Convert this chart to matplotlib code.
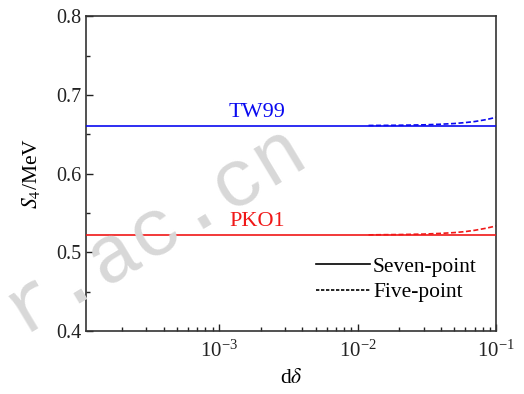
import matplotlib
matplotlib.use("Agg")
import matplotlib.pyplot as plt
from matplotlib.lines import Line2D
from matplotlib.ticker import LogLocator, MultipleLocator, NullFormatter, FuncFormatter
import math

plt.rcParams['font.family'] = ['Liberation Serif', 'DejaVu Serif']
plt.rcParams['mathtext.fontset'] = 'stix'

# data
d_delta_seven = [1.1e-4, 1e-3, 1e-2, 1e-1]
tw99_seven = [0.661, 0.661, 0.661, 0.661]
pko1_seven = [0.522, 0.522, 0.522, 0.522]
d_delta_five = [1.2e-2, 1.5e-2, 2e-2, 3e-2, 4e-2, 5e-2, 6e-2, 7e-2, 8.5e-2, 1e-1]
tw99_five = [0.6611, 0.6612, 0.6614, 0.6619, 0.6627, 0.6636, 0.6648, 0.6661, 0.6686, 0.6715]
pko1_five = [0.5221, 0.5223, 0.5225, 0.5231, 0.5240, 0.5250, 0.5263, 0.5279, 0.5306, 0.5335]
model_names = ["TW99", "PKO1"]
legend_labels = ["Seven-point", "Five-point"]

fig = plt.figure(figsize=(5.24, 3.94), dpi=100)
ax = fig.add_axes([0.164, 0.160, 0.783, 0.799])

blue = '#0a0af0'
red = '#f01818'
ax.plot(d_delta_five, tw99_five, color=blue, lw=1.2, ls=(0, (3, 1.5)), zorder=2)
ax.plot(d_delta_seven, tw99_seven, color=blue, lw=1.2, ls='-', zorder=3)
ax.plot(d_delta_five, pko1_five, color=red, lw=1.2, ls=(0, (3, 1.5)), zorder=2)
ax.plot(d_delta_seven, pko1_seven, color=red, lw=1.2, ls='-', zorder=3)

ax.set_xscale('log')
ax.set_xlim(1.1e-4, 0.1)
ax.set_ylim(0.4, 0.8)
ax.yaxis.set_major_locator(MultipleLocator(0.1))
ax.yaxis.set_minor_locator(MultipleLocator(0.05))
ax.yaxis.set_major_formatter(FuncFormatter(lambda v, p: f"{v:.1f}"))
ax.xaxis.set_major_locator(LogLocator(base=10, numticks=10))
ax.xaxis.set_minor_locator(LogLocator(base=10, subs=range(2, 10), numticks=20))
ax.xaxis.set_minor_formatter(NullFormatter())
ax.xaxis.set_major_formatter(FuncFormatter(
    lambda v, p: r'$\mathregular{10^{%d}}$' % round(math.log10(v))))

ax.tick_params(which='both', direction='in', top=False, right=False, colors='#222222')
ax.tick_params(axis='y', labelsize=14.5)
ax.tick_params(axis='x', labelsize=15, pad=7)
ax.tick_params(which='major', length=5, width=1.0)
ax.tick_params(which='minor', length=3, width=1.0)
for s in ax.spines.values():
    s.set_linewidth(1.2)
    s.set_color('#333333')

ax.text(1.88e-3, 0.666, model_names[0], color=blue, fontsize=16, ha='center', va='bottom')
ax.text(1.88e-3, 0.527, model_names[1], color=red, fontsize=16, ha='center', va='bottom')

handles = [Line2D([], [], color='black', lw=1.2, ls='-'),
           Line2D([], [], color='black', lw=1.2, ls=(0, (2, 1)))]
ax.legend(handles, legend_labels, loc='lower right', frameon=False, fontsize=15.5,
          handlelength=2.5, handletextpad=0.15, labelspacing=0.25,
          bbox_to_anchor=(1.0, 0.03))

ax.set_xlabel(r'd$\delta$', fontsize=15.5, labelpad=5)
ax.set_ylabel(r'$S_4$/MeV', fontsize=15.5, labelpad=10)

fig.text(0.296, 0.42, 'r.ac.cn', rotation=31, fontsize=58, color='#d8d8d8',
         family='Liberation Mono', ha='center', va='center', zorder=0)

fig.savefig('out.png', dpi=100)
